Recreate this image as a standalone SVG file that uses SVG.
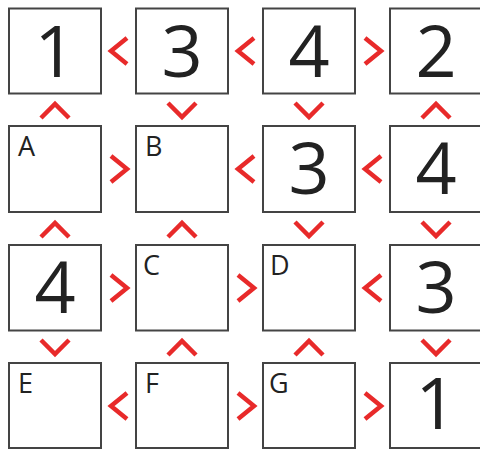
<svg xmlns="http://www.w3.org/2000/svg" width="480" height="450" viewBox="0 0 480 450">
<style>
.box{fill:#fff;stroke:#444;stroke-width:2}
.num{font-family:"Open Sans","Noto Sans",sans-serif;font-size:72px;fill:#222;text-anchor:middle}
.lbl{font-family:"Open Sans","Noto Sans",sans-serif;font-size:27px;fill:#222}
.chev{fill:none;stroke:#e82a2a;stroke-width:4.5;stroke-linecap:butt;stroke-linejoin:miter}
</style>
<defs>
<path id="L" d="M8,-13 L-8,0 L8,13"/>
<path id="R" d="M-8,-13 L8,0 L-8,13"/>
<path id="U" d="M-14,7 L0,-7 L14,7"/>
<path id="D" d="M-14,-7 L0,7 L14,-7"/>
</defs>
<rect width="480" height="450" fill="#fff"/>
<g id="n00"><rect class="box" x="9" y="8.5" width="92" height="85"/><text class="num" x="55" y="77">1</text></g>
<g id="n01"><rect class="box" x="136" y="8.5" width="92" height="85"/><text class="num" x="182" y="77">3</text></g>
<g id="n02"><rect class="box" x="263" y="8.5" width="92" height="85"/><text class="num" x="309" y="77">4</text></g>
<g id="n03"><rect class="box" x="390" y="8.5" width="92" height="85"/><text class="num" x="436" y="77">2</text></g>
<g id="n10"><rect class="box" x="9" y="126" width="92" height="86"/><text class="lbl" x="18" y="156">A</text></g>
<g id="n11"><rect class="box" x="136" y="126" width="92" height="86"/><text class="lbl" x="145" y="156">B</text></g>
<g id="n12"><rect class="box" x="263" y="126" width="92" height="86"/><text class="num" x="309" y="194">3</text></g>
<g id="n13"><rect class="box" x="390" y="126" width="92" height="86"/><text class="num" x="436" y="194">4</text></g>
<g id="n20"><rect class="box" x="9" y="245" width="92" height="85.5"/><text class="num" x="55" y="313">4</text></g>
<g id="n21"><rect class="box" x="136" y="245" width="92" height="85.5"/><text class="lbl" x="143" y="275">C</text></g>
<g id="n22"><rect class="box" x="263" y="245" width="92" height="85.5"/><text class="lbl" x="270" y="275">D</text></g>
<g id="n23"><rect class="box" x="390" y="245" width="92" height="85.5"/><text class="num" x="436" y="313">3</text></g>
<g id="n30"><rect class="box" x="9" y="363" width="92" height="85"/><text class="lbl" x="18" y="393">E</text></g>
<g id="n31"><rect class="box" x="136" y="363" width="92" height="85"/><text class="lbl" x="145" y="393">F</text></g>
<g id="n32"><rect class="box" x="263" y="363" width="92" height="85"/><text class="lbl" x="269" y="393">G</text></g>
<g id="n33"><rect class="box" x="390" y="363" width="92" height="85"/><text class="num" x="436" y="429">1</text></g>
<g id="connectors" class="chev">
<use href="#L" x="119" y="51"/><use href="#L" x="246" y="51"/><use href="#R" x="373" y="51"/>
<use href="#U" x="55" y="111"/><use href="#D" x="182" y="110"/><use href="#D" x="309" y="110"/><use href="#U" x="436" y="111"/>
<use href="#R" x="119" y="169"/><use href="#L" x="246" y="169"/><use href="#L" x="373" y="169"/>
<use href="#U" x="55" y="230"/><use href="#U" x="182" y="230"/><use href="#D" x="309" y="229"/><use href="#D" x="436" y="229"/>
<use href="#R" x="119" y="288"/><use href="#R" x="246" y="288"/><use href="#L" x="373" y="288"/>
<use href="#D" x="55" y="347"/><use href="#U" x="182" y="348"/><use href="#U" x="309" y="348"/><use href="#D" x="436" y="347"/>
<use href="#L" x="119" y="406"/><use href="#R" x="246" y="406"/><use href="#R" x="373" y="406"/>
</g>
</svg>
